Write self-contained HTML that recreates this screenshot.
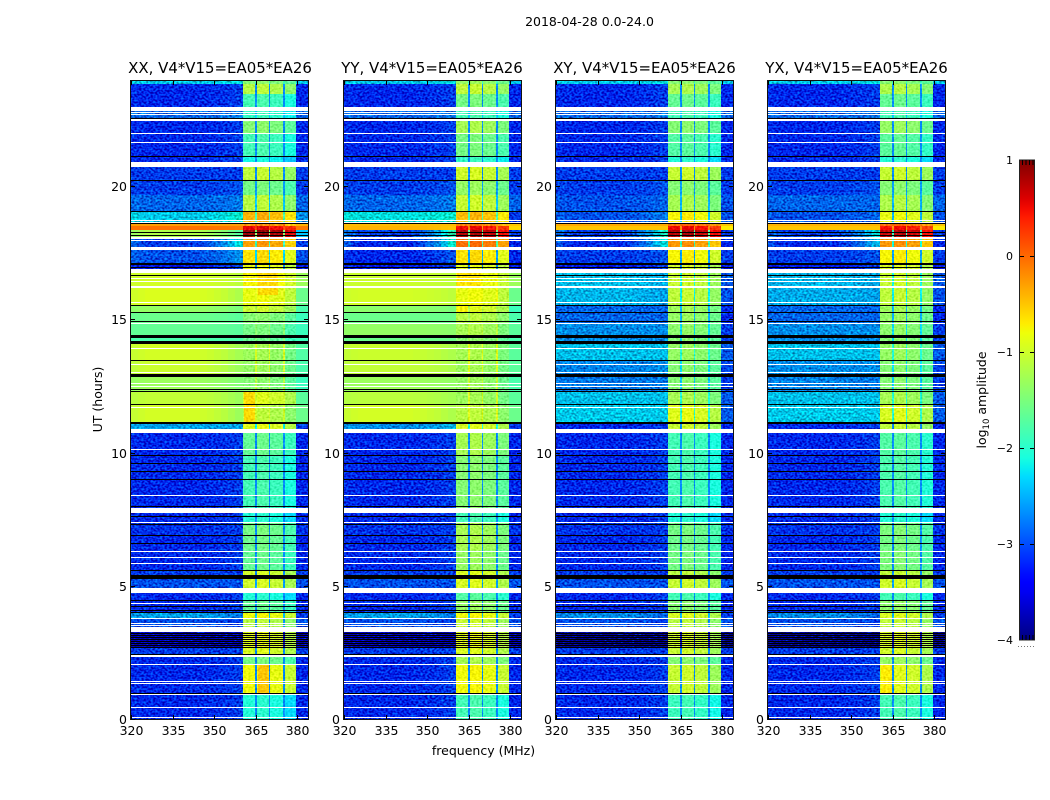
<!DOCTYPE html>
<html lang="en">
<head>
<meta charset="utf-8">
<title>2018-04-28 amplitude waterfall</title>
<style>
html,body{margin:0;padding:0;background:#fff;width:1050px;height:800px;overflow:hidden}
svg{display:block}
text{font-family:"DejaVu Sans","Liberation Sans",sans-serif;fill:#000}
</style>
</head>
<body>
<svg id="figure" xmlns="http://www.w3.org/2000/svg" width="1050" height="800" viewBox="0 0 1050 800">
  <defs>
    <filter id="grain" filterUnits="userSpaceOnUse" x="0" y="0" width="1050" height="800" color-interpolation-filters="sRGB">
      <feTurbulence type="fractalNoise" baseFrequency="0.43 0.53" numOctaves="1" seed="7" result="n"/>
      <feColorMatrix in="n" type="matrix" values="0.3 0 0 0 0.35  1 0 0 0 0  1 0 0 0 0  0 0 0 0 1" result="m"/>
      <feComposite in="SourceGraphic" in2="m" operator="arithmetic" k1="0" k2="1" k3="1.1" k4="-0.63" result="c"/>
      <feComposite in="c" in2="SourceGraphic" operator="in"/>
    </filter>
    <filter id="grain-soft" filterUnits="userSpaceOnUse" x="0" y="0" width="1050" height="800" color-interpolation-filters="sRGB">
      <feTurbulence type="fractalNoise" baseFrequency="0.43 0.53" numOctaves="1" seed="19" result="n"/>
      <feColorMatrix in="n" type="matrix" values="1 0 0 0 0  1 0 0 0 0  1 0 0 0 0  0 0 0 0 1" result="m"/>
      <feComposite in="SourceGraphic" in2="m" operator="arithmetic" k1="0" k2="1" k3="0.45" k4="-0.225" result="c"/>
      <feComposite in="c" in2="SourceGraphic" operator="in"/>
    </filter>
    <linearGradient id="cbar-gradient" x1="0" y1="1" x2="0" y2="0"></linearGradient>
  </defs>
  <rect width="1050" height="800" fill="#fff"/>
  <text x="589.5" y="26" font-size="12.5" text-anchor="middle">2018-04-28 0.0-24.0</text>
  <text x="483.5" y="755" font-size="12.5" text-anchor="middle">frequency (MHz)</text>
  <text transform="translate(102,399.5) rotate(-90)" font-size="12.5" text-anchor="middle">UT (hours)</text>
  <g id="panels"></g>
  <g id="colorbar"></g>
  <text transform="translate(986,400) rotate(-90)" font-size="12.5" text-anchor="middle">log<tspan font-size="8.5" dy="3">10</tspan><tspan dy="-3"> amplitude</tspan></text>
  <line x1="1018" x2="1035" y1="646.5" y2="646.5" stroke="#777" stroke-width="1" stroke-dasharray="1 2"/>
</svg>
<script>
/* ---- axis values ---- */
const panelNames = ["XX", "YY", "XY", "YX"];
const panelTitles = ["XX, V4*V15=EA05*EA26", "YY, V4*V15=EA05*EA26", "XY, V4*V15=EA05*EA26", "YX, V4*V15=EA05*EA26"];
const xTicks = [320, 335, 350, 365, 380];
const yTicks = [0, 5, 10, 15, 20];
const cbarTicks = [1, 0, -1, -2, -3, -4];

/* ---- time band edges, UT hours, top to bottom ---- */
const bandEdges = [23.94,23.83,23.45,22.81,22.55,21.99,21.13,20.75,20.23,19.66,19.06,18.65,18.50,18.35,18.09,17.60,17.11,16.74,16.25,15.50,15.23,14.86,14.30,14.07,13.43,12.91,12.27,11.78,11.07,10.73,9.87,7.92,7.39,6.90,6.34,5.59,5.29,4.73,4.47,4.01,3.75,3.26,2.70,2.36,2.06,0.94,0];

/* ---- log10 amplitude per band: [left, at 360 MHz, RFI block, right edge (defaults to left)] ---- */
const levelsXX = [[-2.3,-2.2,-1.5],[-3.1,-3,-1.2],[-3.1,-3,-1.9],[-2.8,-2.7,-2],[-3.1,-3,-1.5],[-3.1,-3,-1.9],[-3.1,-3,-2.2],[-3,-3,-1.15],[-3,-2.9,-1.6],[-2.8,-2.7,-1.2],[-2.3,-2.1,-0.45,-2.6],[-0.3,-0.3,-0.3,-0.4],[-0.05,-0.1,0.5,-0.1],[-1.2,-1.7,0.8,-2.4],[-3,-2.2,-0.35,-3],[-2.9,-2.6,-0.7],[-3.2,-3,-0.9],[-0.97,-1.1,-0.8,-1.3],[-0.92,-1.2,-0.9,-1.6],[-1.35,-1.5,-1.1,-1.8],[-1.6,-1.7,-1.5,-1.9],[-1.65,-1.7,-1.6,-1.9],[-1.8,-1.8,-1.7,-1.9],[-0.97,-1.25,-1.35,-1.75],[-1.02,-1.3,-1.4,-1.8],[-1.3,-1.45,-1.5,-1.9],[-1.07,-1.3,-1,-1.7],[-0.97,-1.3,-1.2,-1.6],[-2.5,-2.5,-0.95,-3],[-3.1,-3,-1.7],[-3.1,-3,-1.9],[-3.1,-3,-2.1],[-3.05,-3,-1.6],[-3.1,-3,-1.65],[-3.1,-3,-1.7],[-3,-3,-1.05],[-2.9,-2.9,-1.05],[-3.1,-3,-2.1],[-3.1,-3,-1.7],[-2.5,-2.7,-0.85,-3],[-2.9,-3,-1.2],[-3.65,-3.65,-0.95],[-3,-3,-1],[-3.1,-3,-1.6],[-3.1,-3,-0.85],[-3.1,-3,-2.1]];
const levelsYY = [[-2.3,-2.2,-1.4],[-3.1,-3,-1.15],[-3.1,-3,-1.6],[-2.8,-2.7,-1.9],[-3.1,-3,-1.3],[-3.1,-3,-1.6],[-3.1,-3,-2],[-3,-3,-1.05],[-3,-2.9,-1.4],[-2.8,-2.7,-1.1],[-2.2,-2.1,-0.5,-3],[-0.45,-0.45,-0.2,-0.5],[-0.4,-0.5,0.45,-0.6],[-3,-1.9,0.7,-3],[-3.1,-2.1,-0.1],[-3.1,-2.9,-0.7],[-3.2,-3,-0.95],[-1.02,-1.1,-0.85,-1.3],[-0.97,-1.1,-0.9,-1.6],[-1.4,-1.5,-1,-1.9],[-1.6,-1.6,-1.2,-1.8],[-1.35,-1.4,-1.3,-1.7],[-1.6,-1.6,-1.5,-1.8],[-1.02,-1.2,-1.3,-1.7],[-1.07,-1.2,-1.35,-1.7],[-1.3,-1.35,-1.4,-1.8],[-1.12,-1.25,-1.35,-1.7],[-0.97,-1.2,-1.2,-1.6],[-2.6,-2.4,-1,-3],[-3.1,-3,-1.3],[-3.1,-3,-1.5],[-3.1,-3,-1.9],[-3.05,-3,-1.3],[-3.1,-3,-1.3],[-3.1,-3,-1.4],[-3,-3,-1],[-2.9,-2.9,-1],[-3.1,-3,-1.8],[-3.1,-3,-1.4],[-2.5,-2.7,-0.85,-3],[-2.9,-3,-1.1],[-3.65,-3.65,-0.95],[-3,-3,-1],[-3.1,-3,-1.3],[-3.1,-3,-0.85],[-3.1,-3,-1.9]];
const levelsXY = [[-2.3,-2.2,-1.5],[-3.1,-3,-1.3],[-3.1,-3,-1.7],[-2.8,-2.7,-1.9],[-3.1,-3,-1.5],[-3.1,-3,-1.8],[-3.1,-3,-2.1],[-3,-3,-1.1],[-3,-2.9,-1.5],[-2.9,-2.8,-1.3],[-2.9,-2.7,-0.8],[-0.35,-0.35,-0.1,-0.5],[-0.5,-0.5,0.45,-0.7],[-3,-2,0.7,-3],[-3.1,-2.2,-0.3],[-3,-2.9,-0.8],[-3.2,-3,-1.05],[-2.35,-2.45,-1.1,-2.85],[-2.4,-2.5,-1.15,-2.9],[-2.8,-2.8,-1.35,-3.1],[-2.8,-2.8,-1.4,-3.1],[-2.6,-2.6,-1.45,-3],[-2.6,-2.6,-1.5,-3],[-2.35,-2.35,-1.4,-2.85],[-2.65,-2.6,-1.5,-2.95],[-2.7,-2.7,-1.5,-3],[-2.35,-2.35,-1.3,-2.85],[-2.3,-2.3,-0.95,-2.85],[-3.1,-3,-1.1],[-3.1,-3,-1.9],[-3.1,-3,-1.9],[-3.1,-3,-2.1],[-3.05,-3,-1.6],[-3.1,-3,-1.65],[-3.1,-3,-1.6],[-3,-3,-1.2],[-2.9,-2.9,-1.1],[-3.1,-3,-1.9],[-3.1,-3,-1.5],[-2.6,-2.8,-1,-3],[-2.9,-3,-1.2],[-3.8,-3.8,-1.05],[-3,-3,-1.1],[-3.1,-3,-1.5],[-3.1,-3,-1.1],[-3.1,-3,-1.95]];
const levelsYX = [[-2.3,-2.2,-1.5],[-3.1,-3,-1.25],[-3.1,-3,-1.7],[-2.8,-2.7,-1.9],[-3.1,-3,-1.4],[-3.1,-3,-1.75],[-3.1,-3,-2.1],[-3,-3,-1.1],[-3,-2.9,-1.5],[-2.8,-2.8,-1.25],[-2.9,-2.8,-0.9],[-0.4,-0.4,-0.1,-0.5],[-0.5,-0.5,0.4,-0.7],[-3,-2.2,0.65,-3],[-3.1,-2.4,-0.3],[-3,-2.9,-0.8],[-3.2,-3,-1],[-2.4,-2.45,-1.1,-2.85],[-2.45,-2.5,-1.15,-2.9],[-2.8,-2.8,-1.35,-3.1],[-2.8,-2.8,-1.4,-3.1],[-2.6,-2.6,-1.45,-3],[-2.6,-2.6,-1.5,-3],[-2.35,-2.35,-1.4,-2.85],[-2.6,-2.6,-1.5,-2.95],[-2.65,-2.7,-1.5,-3],[-2.35,-2.35,-1.3,-2.85],[-2.3,-2.3,-1,-2.85],[-3.1,-3,-1.15],[-3.1,-3,-1.8],[-3.1,-3,-1.85],[-3.1,-3,-2.1],[-3.05,-3,-1.55],[-3.1,-3,-1.6],[-3.1,-3,-1.55],[-3,-3,-1.15],[-2.9,-2.9,-1.05],[-3.1,-3,-1.9],[-3.1,-3,-1.45],[-2.6,-2.8,-1,-3],[-2.9,-3,-1.15],[-3.8,-3.8,-1],[-3,-3,-1.05],[-3.1,-3,-1.4],[-3.1,-3,-1],[-3.1,-3,-1.9]];

/* ---- frequency structure ---- */
const bgTaper = [0.25,0.1,0,0,0,0,0,0,0,0,0.1,0.2,0.35,0.5,0.75,1];
const blockBands = [[360.4,364.8],[365.5,369.8],[370.4,374.8],[375.5,379.7]];
const blockTilt = [0.05,0.1,0,-0.2];

/* ---- local enhancements: [t high, t low, f low, f high, level] ---- */
const hotspotsXX = [[2.06,0.94,366,369.8,-0.5],[2.06,0.94,361,364.8,-0.8],[12.27,11.07,361,364.8,-0.6],[16.74,15.9,366,373,-0.6]];
const hotspotsYY = [[16.74,16.25,361,369,-0.65],[15.5,15.23,361,364.8,-0.75]];
const hotspotsXY = [];
const hotspotsYX = [[2.06,0.94,361,364.8,-0.7]];

/* ---- flagged integrations, UT hours [high, low] ---- */
const whiteBands = [[22.96,22.81],[22.79,22.75],[22.72,22.70],[22.51,22.48],[22.46,22.44],[21.99,21.95],[21.65,21.61],[20.91,20.72],[18.74,18.68],[18.65,18.61],[18.07,18.01],[17.97,17.94],[17.71,17.65],[17.62,17.58],[16.90,16.73],[16.54,16.51],[16.45,16.42],[16.23,16.19],[15.65,15.61],[14.86,14.82],[13.92,13.88],[13.32,13.28],[13.02,12.98],[12.61,12.57],[12.49,12.46],[11.71,11.67],[10.89,10.74],[10.13,10.09],[8.41,8.37],[7.90,7.74],[7.39,7.35],[6.32,6.28],[6.08,6.04],[5.85,5.82],[4.93,4.74],[4.35,4.31],[3.79,3.75],[3.62,3.58],[3.53,3.49],[3.46,3.28],[2.42,2.34],[2.06,2.03],[1.43,1.39],[1.35,1.31],[0.94,0.90],[0.45,0.41],[0.07,0.04]];
const blackBands = [[22.55,22.51],[21.13,21.09],[20.23,20.19],[19.06,19.02],[18.61,18.57],[18.27,18.24],[18.16,18.12],[17.11,17.03],[16.96,16.92],[16.66,16.62],[15.54,15.48],[15.29,15.23],[14.93,14.90],[14.41,14.30],[14.18,14.07],[13.47,13.43],[12.95,12.83],[12.38,12.34],[12.31,12.27],[11.82,11.78],[11.14,11.07],[9.89,9.85],[9.61,9.57],[9.31,9.27],[9.01,8.97],[7.99,7.95],[7.62,7.58],[7.32,7.28],[6.90,6.87],[6.60,6.57],[5.59,5.55],[5.40,5.27],[4.47,4.43],[4.24,4.20],[4.09,4.05],[4.01,3.98],[3.23,3.19],[3.15,3.11],[3.08,3.04],[3.00,2.96],[2.93,2.89],[2.85,2.81],[2.78,2.74],[2.70,2.66],[2.44,2.42],[0.96,0.94]];

const panelLevels = [levelsXX, levelsYY, levelsXY, levelsYX];
const panelHotspots = [hotspotsXX, hotspotsYY, hotspotsXY, hotspotsYX];

/* ---- scales ---- */
const NS = "http://www.w3.org/2000/svg";
const panelLeft = [131, 344, 556, 768];
const titleCentre = [220, 432, 644.5, 856.5];
function xScale(p, f) { return panelLeft[p] + (f - 320) * 2.767; }
function yScale(h) { return 719 - h * 26.65; }
function cbarScale(v) { return 256 - v * 96; }

const jetR = [[0,0],[0.35,0],[0.66,1],[0.89,1],[1,0.5]];
const jetG = [[0,0],[0.125,0],[0.375,1],[0.64,1],[0.91,0],[1,0]];
const jetB = [[0,0.5],[0.11,1],[0.34,1],[0.65,0],[1,0]];
function ramp(stops, t) {
  for (let i = 1; i < stops.length; i++) {
    if (t <= stops[i][0]) {
      const a = stops[i - 1], b = stops[i];
      return a[1] + (b[1] - a[1]) * (t - a[0]) / (b[0] - a[0]);
    }
  }
  return stops[stops.length - 1][1];
}
function color(v) {
  const t = Math.min(1, Math.max(0, (v + 4) / 5));
  return "rgb(" + Math.round(ramp(jetR, t) * 255) + "," + Math.round(ramp(jetG, t) * 255) + "," + Math.round(ramp(jetB, t) * 255) + ")";
}
function make(tag, attrs, parent) {
  const el = document.createElementNS(NS, tag);
  for (const k in attrs) el.setAttribute(k, attrs[k]);
  parent.appendChild(el);
  return el;
}
function cell(parent, p, f0, f1, t0, t1, v) {
  const x0 = Math.round(xScale(p, f0)), x1 = Math.round(xScale(p, f1));
  const y0 = Math.round(yScale(t0)), y1 = Math.round(yScale(t1));
  const el = make("rect", { x: x0, y: y0, width: Math.max(1, x1 - x0), height: Math.max(1, y1 - y0), fill: color(v), "shape-rendering": "crispEdges" }, parent);
  
  
  return el;
}

/* ---- panels ---- */
const panelsRoot = document.getElementById("panels");
panelNames.forEach(function (name, p) {
  const g = make("g", {}, panelsRoot);
  
  

  const noisy = make("g", { filter: "url(#grain)" }, g);
  
  
  const smooth = make("g", {}, g);
  
  
  const blocks = make("g", { filter: "url(#grain-soft)" }, g);
  
  

  panelLevels[p].forEach(function (lv, b) {
    const tTop = bandEdges[b], tBot = bandEdges[b + 1];
    const left = lv[0], mid = lv[1], block = lv[2];
    const right = lv.length > 3 ? lv[3] : lv[0];
    const target = left < -1.9 ? noisy : smooth;
    bgTaper.forEach(function (w, i) {
      const f0 = 320 + i * 2.5;
      const f1 = i === bgTaper.length - 1 ? 360.4 : f0 + 2.5;
      cell(target, p, f0, f1, tTop, tBot, left + (mid - left) * w);
    });
    cell(blocks, p, 360.4, 379.7, tTop, tBot, mid + 0.3);
    blockBands.forEach(function (fb, i) {
      cell(blocks, p, fb[0], fb[1], tTop, tBot, block + blockTilt[i]);
    });
    cell(target, p, 379.7, 384, tTop, tBot, right);
  });
  panelHotspots[p].forEach(function (h) {
    cell(blocks, p, h[2], h[3], h[0], h[1], h[4]);
  });

  const flagged = make("g", {}, g);
  
  
  blackBands.forEach(function (bb) {
    const y0 = Math.round(yScale(bb[0])), y1 = Math.round(yScale(bb[1]));
    const el = make("rect", { x: panelLeft[p], y: y0, width: 177, height: Math.max(1, y1 - y0), fill: "#000", "shape-rendering": "crispEdges" }, flagged);
    
    
  });
  whiteBands.forEach(function (wb) {
    const y0 = Math.round(yScale(wb[0])), y1 = Math.round(yScale(wb[1]));
    const el = make("rect", { x: panelLeft[p], y: y0, width: 177, height: Math.max(1, y1 - y0), fill: "#fff", "shape-rendering": "crispEdges" }, flagged);
    
    
  });

  const frame = make("rect", { x: panelLeft[p] - 0.5, y: 80.5, width: 178, height: 639, fill: "none", stroke: "#111", "stroke-width": 1 }, g);
  
  

  xTicks.forEach(function (f) {
    const x = Math.round(xScale(p, f)) + 0.5;
    const t1 = make("line", { x1: x, x2: x, y1: 719, y2: 715, stroke: "#000" }, g);
    
    
    const t2 = make("line", { x1: x, x2: x, y1: 81, y2: 85, stroke: "#000" }, g);
    
    
    const lab = make("text", { x: x, y: 735, "font-size": 12.5, "text-anchor": "middle" }, g);
    
    
    lab.textContent = f;
  });
  yTicks.forEach(function (h) {
    const y = Math.round(yScale(h)) + 0.5;
    const t1 = make("line", { x1: panelLeft[p], x2: panelLeft[p] + 4, y1: y, y2: y, stroke: "#000" }, g);
    
    
    const t2 = make("line", { x1: panelLeft[p] + 177, x2: panelLeft[p] + 173, y1: y, y2: y, stroke: "#000" }, g);
    
    
    const lab = make("text", { x: panelLeft[p] - 4, y: y + 4.5, "font-size": 12.5, "text-anchor": "end" }, g);
    
    
    lab.textContent = h;
  });

  const title = make("text", { x: titleCentre[p], y: 73, "font-size": 14.95, "text-anchor": "middle" }, g);
  
  
  title.textContent = panelTitles[p];
});

/* ---- colour bar ---- */
const grad = document.getElementById("cbar-gradient");
for (let i = 0; i <= 50; i++) {
  make("stop", { offset: (i / 50), "stop-color": color(-4 + i / 10) }, grad);
}
const cb = document.getElementById("colorbar");


const cbRect = make("rect", { x: 1019.5, y: cbarScale(1), width: 15, height: cbarScale(-4) - cbarScale(1), fill: "url(#cbar-gradient)", stroke: "#222", "stroke-width": 1 }, cb);


cbarTicks.forEach(function (v) {
  const y = cbarScale(v);
  const lab = make("text", { x: 1013, y: y + 4, "font-size": 11, "text-anchor": "end" }, cb);
  
  
  lab.textContent = v < 0 ? "\u2212" + (-v) : String(v);
  if (v < 1 && v > -4) {
    const a = make("line", { x1: 1020, x2: 1024, y1: y + 0.5, y2: y + 0.5, stroke: "#000" }, cb);
    
    
    const c = make("line", { x1: 1030, x2: 1034, y1: y + 0.5, y2: y + 0.5, stroke: "#000" }, cb);
    
    
  }
});
[2.5, 6, 9.5, 13].forEach(function (dx) {
  const top = make("line", { x1: 1020 + dx, x2: 1020 + dx, y1: 160, y2: 165, stroke: "#000" }, cb);
  
  
  const bot = make("line", { x1: 1020 + dx, x2: 1020 + dx, y1: 635, y2: 640, stroke: "#000" }, cb);
  
  
});
</script>
</body>
</html>
